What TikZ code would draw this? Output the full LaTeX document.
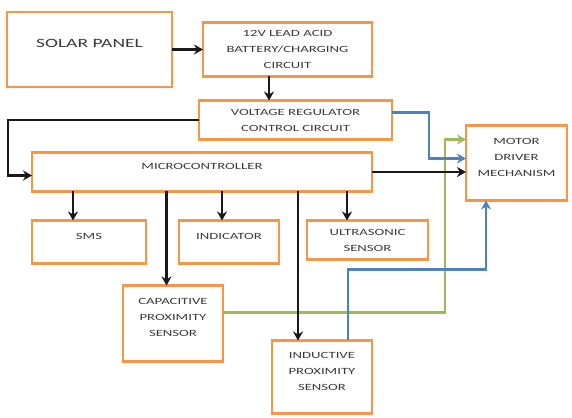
\documentclass[tikz,border=0pt]{standalone}
\usepackage{fontspec}
\setmainfont{Carlito}[FakeStretch=1.55]
\usetikzlibrary{arrows.meta, positioning}
\definecolor{boxorange}{HTML}{F79646}
\definecolor{lineblue}{HTML}{4F81BD}
\definecolor{linegreen}{HTML}{9BBB59}
\definecolor{txtgray}{HTML}{3A3A3A}

\begin{document}
\begin{tikzpicture}[
    block/.style={rectangle, draw=boxorange, line width=2.2pt, fill=white, align=center, text=txtgray, font=\fontsize{9.5}{16}\selectfont, inner sep=2pt, outer sep=0pt},
    raised/.style={text depth=12pt},
    wire/.style={-{Stealth[length=9pt,width=10pt]}, line width=2.6pt, black!90},
    bluewire/.style={wire, lineblue, line width=2.4pt},
    greenwire/.style={wire, linegreen, line width=2.4pt}
]
\useasboundingbox (0,0) rectangle (572pt,417pt);

% Power chain
\node[block, raised, minimum width=165pt, minimum height=75pt, font=\fontsize{12.6}{16}\selectfont] (solar) at (89.5pt,367.5pt) {SOLAR PANEL};
\node[block, minimum width=169pt, minimum height=54pt, right=31pt of solar] (battery) {12V LEAD ACID\\BATTERY/CHARGING\\CIRCUIT};
\node[block, minimum width=193pt, minimum height=39pt, below=24pt of battery, xshift=8pt] (vr) {VOLTAGE REGULATOR\\CONTROL CIRCUIT};

% Controller and motor driver
\node[block, raised, minimum width=340pt, minimum height=39pt, below=13pt of vr, xshift=-93.5pt] (mc) {MICROCONTROLLER};
\node[block, raised, minimum width=101pt, minimum height=75pt, right=94pt of mc, yshift=9pt] (motor) {MOTOR\\DRIVER\\MECHANISM};

% Outputs and sensors
\node[block, raised, minimum width=114pt, minimum height=43pt, below=29pt of mc.south west, anchor=north west] (sms) {SMS};
\node[block, raised, minimum width=100pt, minimum height=43pt, right=33pt of sms] (indicator) {INDICATOR};
\node[block, minimum width=121pt, minimum height=39pt, right=28pt of indicator.north east, anchor=north west] (ultra) {ULTRASONIC\\SENSOR};
\node[block, raised, minimum width=100pt, minimum height=76pt, below=22pt of sms.south east, anchor=north west, xshift=-23pt] (cap) {CAPACITIVE\\PROXIMITY\\SENSOR};
\node[block, raised, minimum width=100pt, minimum height=73pt, right=49pt of cap.north east, anchor=north west, yshift=-55pt] (ind) {INDUCTIVE\\PROXIMITY\\SENSOR};

% Entry points
\coordinate (batout) at ([xshift=-18.5pt]battery.south);
\coordinate (smsin) at ([xshift=-16pt]sms.north);
\coordinate (indicatorin) at ([xshift=-7pt]indicator.north);
\coordinate (ultrain) at ([xshift=-20.5pt]ultra.north);
\coordinate (capin) at ([xshift=-6.5pt]cap.north);
\coordinate (indin) at ([xshift=-24pt]ind.north);

% Sensor feedback to motor driver
\draw[greenwire] ([yshift=11pt]cap.east) -- ++(222pt,0) |- ([yshift=23.5pt]motor.west);
\draw[bluewire] ([xshift=26pt]ind.north) -- ++(0,71pt) -| ([xshift=-30.5pt]motor.south);
\draw[bluewire] ([yshift=7.5pt]vr.east) -- ++(37pt,0) |- ([yshift=4.5pt]motor.west);

% Arrows
\draw[wire] (solar) -- (battery);
\draw[wire] (batout) -- (batout |- vr.north);
\draw[wire] (vr.west) -- ++(-191pt,0) |- ([yshift=-3.5pt]mc.west);
\draw[wire] (mc.east) -- (mc.east -| motor.west);

\draw[wire] (mc.south -| smsin) -- (smsin);
\draw[wire] (mc.south -| indicatorin) -- (indicatorin);
\draw[wire] (mc.south -| ultrain) -- (ultrain);
\draw[wire] (mc.south -| capin) -- (capin);
\draw[wire] (mc.south -| indin) -- (indin);

\end{tikzpicture}
\end{document}
